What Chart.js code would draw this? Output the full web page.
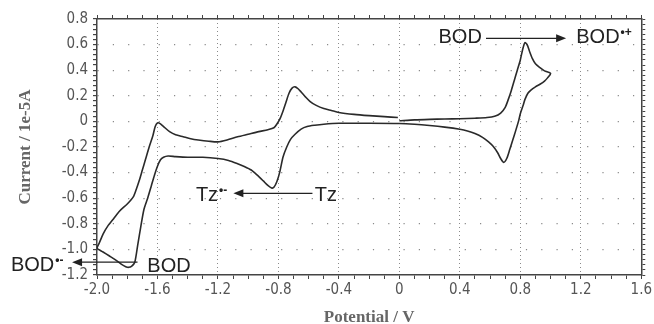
<!DOCTYPE html>
<html>
<head>
<meta charset="utf-8">
<script src="https://cdn.jsdelivr.net/npm/chart.js@4.4.0/dist/chart.umd.min.js"></script>
<style>
  html, body { margin: 0; padding: 0; background: #fff; }
  #wrap { width: 654px; height: 324px; }
</style>
</head>
<body>
<div id="wrap"><canvas id="cvChart"></canvas></div>
<script>
// cyclic voltammogram, scan order: 0 V -> +1.0 V -> -2.0 V -> back to 0 V
var potential = [
  0.00, 0.10, 0.20, 0.30, 0.40, 0.50, 0.58, 0.63, 0.67, 0.70, 0.72, 0.74, 0.76, 0.78, 0.80, 0.815, 0.83, 0.845, 0.86, 0.88, 0.90, 0.93, 0.96, 1.00,
  0.98, 0.96, 0.93, 0.90, 0.87, 0.85, 0.83, 0.82, 0.80, 0.79, 0.77, 0.75, 0.73, 0.71, 0.69, 0.67, 0.65, 0.62, 0.59, 0.55, 0.50, 0.45, 0.40, 0.30, 0.20, 0.10, 0.00,
  -0.20, -0.40, -0.50, -0.56, -0.61, -0.65, -0.69, -0.72, -0.745, -0.77, -0.79, -0.81, -0.83, -0.845, -0.87, -0.90, -0.94, -0.98, -1.03, -1.07, -1.13, -1.20,
  -1.30, -1.40, -1.48, -1.53, -1.56, -1.58, -1.60, -1.62, -1.64, -1.665, -1.69, -1.71, -1.73, -1.75, -1.77, -1.79, -1.81, -1.84, -1.88, -1.92, -1.96, -2.00,
  -1.985, -1.96, -1.93, -1.89, -1.85, -1.80, -1.76, -1.74, -1.72, -1.70, -1.68, -1.655, -1.63, -1.615, -1.60, -1.585, -1.56, -1.52, -1.48, -1.43, -1.38, -1.33,
  -1.26, -1.20, -1.14, -1.07, -1.00, -0.93, -0.87, -0.83, -0.81, -0.79, -0.77, -0.75, -0.73, -0.71, -0.69, -0.67, -0.65, -0.62, -0.59, -0.55, -0.50, -0.45,
  -0.40, -0.30, -0.20, -0.10, -0.01
];
var current = [
  0.005, 0.012, 0.016, 0.019, 0.021, 0.025, 0.030, 0.040, 0.065, 0.11, 0.17, 0.24, 0.32, 0.40, 0.48, 0.56, 0.615, 0.60, 0.55, 0.49, 0.45, 0.42, 0.395, 0.375,
  0.34, 0.315, 0.29, 0.27, 0.245, 0.22, 0.17, 0.13, 0.06, 0.01, -0.07, -0.145, -0.22, -0.29, -0.32, -0.29, -0.245, -0.195, -0.16, -0.125, -0.095, -0.075, -0.062, -0.045, -0.032, -0.022, -0.016,
  -0.014, -0.015, -0.022, -0.03, -0.04, -0.06, -0.10, -0.14, -0.20, -0.28, -0.39, -0.47, -0.515, -0.52, -0.50, -0.465, -0.42, -0.38, -0.35, -0.33, -0.305, -0.29,
  -0.28, -0.28, -0.275, -0.27, -0.28, -0.30, -0.35, -0.42, -0.50, -0.60, -0.69, -0.82, -0.96, -1.10, -1.13, -1.14, -1.135, -1.115, -1.08, -1.05, -1.02, -0.99,
  -0.95, -0.88, -0.82, -0.76, -0.70, -0.645, -0.59, -0.53, -0.46, -0.38, -0.30, -0.20, -0.11, -0.04, -0.012, -0.015, -0.04, -0.08, -0.105, -0.12, -0.135, -0.145,
  -0.155, -0.16, -0.145, -0.12, -0.10, -0.08, -0.065, -0.05, -0.02, 0.02, 0.08, 0.15, 0.22, 0.26, 0.27, 0.255, 0.23, 0.19, 0.155, 0.125, 0.10, 0.085,
  0.07, 0.055, 0.045, 0.037, 0.03
];

var xLabelValues = [-2.0, -1.6, -1.2, -0.8, -0.4, 0, 0.4, 0.8, 1.2, 1.6];
var xLabelText = ['-2.0', '-1.6', '-1.2', '-0.8', '-0.4', '0', '0.4', '0.8', '1.2', '1.6'];
var yLabelValues = [-1.2, -1.0, -0.8, -0.6, -0.4, -0.2, 0, 0.2, 0.4, 0.6, 0.8];
var yLabelText = ['-1.2', '-1.0', '-0.8', '-0.6', '-0.4', '-0.2', '0', '0.2', '0.4', '0.6', '0.8'];

// species labels and arrows, in data units
var notes = [
  { text: 'BOD', sup: '', x: 0.259, y: 0.61 },
  { text: 'BOD', sup: '\u2022+', x: 1.17, y: 0.61 },
  { text: 'Tz', sup: '', x: -0.56, y: -0.62 },
  { text: 'Tz', sup: '\u2022-', x: -1.346, y: -0.62 },
  { text: 'BOD', sup: '\u2022-', x: -2.569, y: -1.166 },
  { text: 'BOD', sup: '', x: -1.667, y: -1.18 }
];
var arrows = [
  { x1: 0.573, x2: 1.103, y: 0.649 },
  { x1: -0.575, x2: -1.098, y: -0.562 },
  { x1: -1.732, x2: -2.165, y: -1.10 }
];

function labelFor(v, vals, txt) {
  for (var i = 0; i < vals.length; i++) {
    if (Math.abs(v - vals[i]) < 1e-6) return txt[i];
  }
  return '';
}
function isInner(v, vals) {
  return labelFor(v, vals, vals.map(function () { return 'y'; })) !== '' &&
    Math.abs(v - vals[0]) > 1e-6 && Math.abs(v - vals[vals.length - 1]) > 1e-6;
}

var tickFont = { family: "'Liberation Sans Narrow', 'Arial Narrow', 'DejaVu Sans Condensed', 'Liberation Sans'", size: 15 };
var titleFont = { family: "'Liberation Serif', 'DejaVu Serif', serif", size: 17, weight: 'bold', lineHeight: 0.8 };

var notesPlugin = {
  id: 'cvNotes',
  afterDraw: function (chart) {
    var ctx = chart.ctx, xs = chart.scales.x, ys = chart.scales.y;
    ctx.save();
    ctx.fillStyle = '#222';
    ctx.strokeStyle = '#222';
    ctx.lineWidth = 1.3;
    arrows.forEach(function (a) {
      var px1 = xs.getPixelForValue(a.x1), px2 = xs.getPixelForValue(a.x2), py = ys.getPixelForValue(a.y);
      var dir = px2 > px1 ? 1 : -1;
      ctx.beginPath();
      ctx.moveTo(px1, py);
      ctx.lineTo(px2 - dir * 8, py);
      ctx.stroke();
      ctx.beginPath();
      ctx.moveTo(px2, py);
      ctx.lineTo(px2 - dir * 10, py - 4);
      ctx.lineTo(px2 - dir * 10, py + 4);
      ctx.closePath();
      ctx.fill();
    });
    ctx.textBaseline = 'alphabetic';
    ctx.textAlign = 'left';
    notes.forEach(function (n) {
      var px = xs.getPixelForValue(n.x), py = ys.getPixelForValue(n.y);
      ctx.font = "20px 'Liberation Sans', Arial, sans-serif";
      ctx.fillText(n.text, px, py);
      if (n.sup) {
        var w = ctx.measureText(n.text).width;
        ctx.font = "bold 12px 'Liberation Sans', Arial, sans-serif";
        ctx.fillText(n.sup, px + w + 1, py - 7);
      }
    });
    ctx.restore();
  }
};

var ctx = document.getElementById('cvChart').getContext('2d');
var cvChart = new Chart(ctx, {
  type: 'scatter',
  data: {
    datasets: [{
      label: 'CV',
      data: potential.map(function (v, i) { return { x: v, y: current[i] }; }),
      showLine: true,
      borderColor: '#2a2a2a',
      borderWidth: 1.6,
      pointRadius: 0,
      tension: 0.25,
      fill: false
    }]
  },
  options: {
    responsive: true,
    maintainAspectRatio: false,
    animation: false,
    layout: { padding: 0 },
    plugins: { legend: { display: false }, tooltip: { enabled: false } },
    scales: {
      x: {
        type: 'linear', position: 'bottom', min: -2.0, max: 1.6,
        afterFit: function (s) { s.height = 49; },
        ticks: {
          stepSize: 0.1, autoSkip: false, maxRotation: 0, padding: 2,
          color: '#555', font: tickFont,
          callback: function (v) { return labelFor(v, xLabelValues, xLabelText); }
        },
        grid: {
          drawOnChartArea: true, tickLength: 4, lineWidth: 1,
          color: function (c) { return isInner(c.tick.value, xLabelValues) ? '#8a8a8a' : 'rgba(0,0,0,0)'; },
          tickColor: '#444'
        },
        border: { display: true, color: '#444', width: 1.5, dash: [1, 3] },
        title: { display: true, text: 'Potential / V', color: '#666', font: titleFont, padding: { top: 0, bottom: 0 } }
      },
      x2: {
        type: 'linear', position: 'top', min: -2.0, max: 1.6,
        afterFit: function (s) { s.height = 19; },
        ticks: { display: false, stepSize: 0.1, autoSkip: false },
        grid: { drawOnChartArea: false, tickLength: 4, tickColor: '#444' },
        border: { display: true, color: '#444', width: 1.5 }
      },
      y: {
        type: 'linear', position: 'left', min: -1.2, max: 0.8,
        afterFit: function (s) { s.width = 97; },
        ticks: {
          stepSize: 0.04, autoSkip: false, padding: 5,
          color: '#555', font: tickFont,
          callback: function (v) { return labelFor(v, yLabelValues, yLabelText); }
        },
        grid: {
          drawOnChartArea: true, tickLength: 4, lineWidth: 1.2,
          color: function (c) { return isInner(c.tick.value, yLabelValues) ? '#8a8a8a' : 'rgba(0,0,0,0)'; },
          tickColor: '#444'
        },
        border: { display: true, color: '#444', width: 1.5, dash: [1.2, 14.1] },
        title: { display: true, text: 'Current / 1e-5A', color: '#666', font: titleFont, padding: { top: 19, bottom: 0 } }
      },
      y2: {
        type: 'linear', position: 'right', min: -1.2, max: 0.8,
        afterFit: function (s) { s.width = 6; },
        ticks: { display: false, stepSize: 0.04, autoSkip: false },
        grid: { drawOnChartArea: false, tickLength: 4, tickColor: '#444' },
        border: { display: true, color: '#444', width: 1.5 }
      }
    }
  },
  plugins: [notesPlugin]
});
</script>
</body>
</html>
